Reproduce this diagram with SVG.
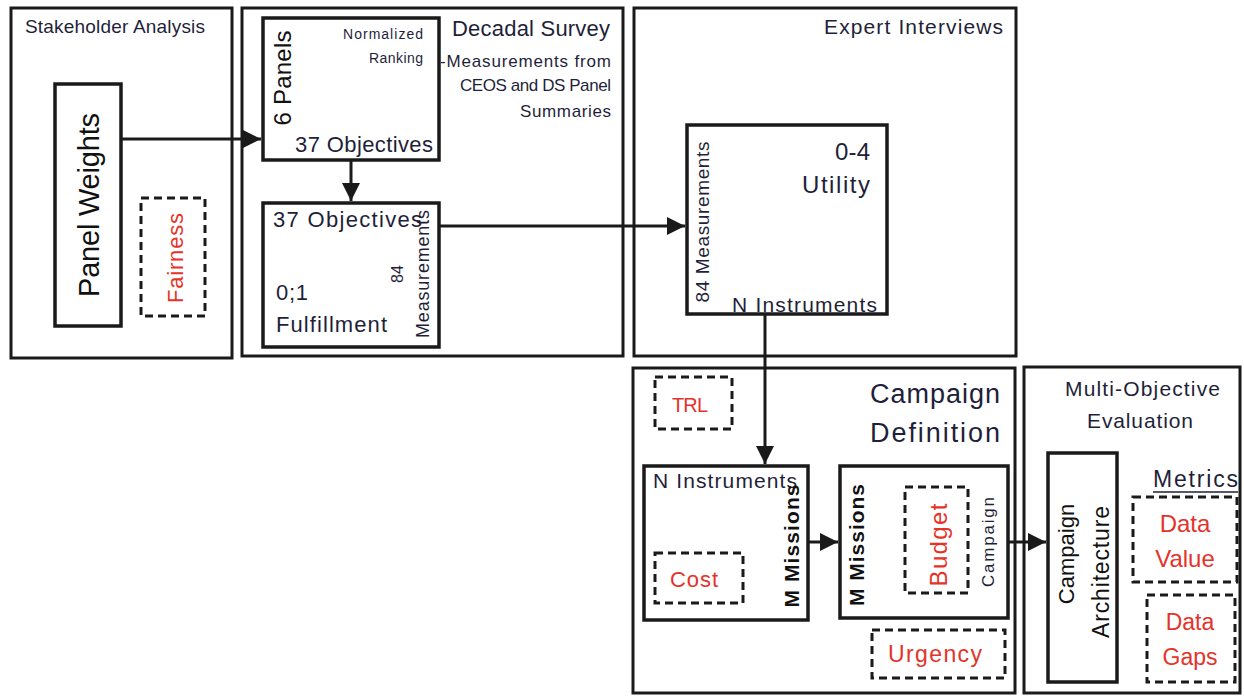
<svg xmlns="http://www.w3.org/2000/svg" width="1244" height="696" viewBox="0 0 1244 696">
<style>
  text { font-family: "Liberation Sans", Arial, sans-serif; fill: #1f1f3a; }
  .panel { fill: #fff; stroke: #1a1a1a; stroke-width: 3; }
  .box { fill: #fff; stroke: #1a1a1a; stroke-width: 3.5; }
  .dash { fill: none; stroke: #1a1a1a; stroke-width: 3; stroke-dasharray: 8 5; }
  .red { fill: #e5332a; }
  .dark { fill: #111; }
  .conn { fill: none; stroke: #1a1a1a; stroke-width: 3; }
</style>
<defs>
  <marker id="arr" viewBox="0 0 10 10" refX="10" refY="5" markerWidth="6" markerHeight="6" markerUnits="strokeWidth" orient="auto">
    <path d="M0,0 L10,5 L0,10 z" fill="#1a1a1a"/>
  </marker>
</defs>
<rect width="1244" height="696" fill="#fff"/>

<g id="stakeholder-analysis">
  <rect class="panel" x="11" y="8" width="221" height="350"/>
  <text x="25" y="33" font-size="19" textLength="180">Stakeholder Analysis</text>
</g>
<g id="decadal-survey">
  <rect class="panel" x="242" y="8" width="381" height="348"/>
  <text x="452" y="36" font-size="22" textLength="158">Decadal Survey</text>
  <text x="440" y="67" font-size="17" textLength="171">-Measurements from</text>
  <text x="460" y="91" font-size="17" textLength="151">CEOS and DS Panel</text>
  <text x="520" y="117" font-size="17" textLength="91">Summaries</text>
</g>
<g id="expert-interviews">
  <rect class="panel" x="634" y="8" width="382" height="348"/>
  <text x="824" y="34" font-size="21" textLength="179">Expert Interviews</text>
</g>
<g id="campaign-definition">
  <rect class="panel" x="633" y="368" width="382" height="325"/>
  <text x="870" y="403" font-size="27" textLength="130">Campaign</text>
  <text x="870" y="442" font-size="27" textLength="130">Definition</text>
</g>
<g id="multi-objective-evaluation">
  <rect class="panel" x="1024" y="367" width="216" height="326"/>
  <text x="1065" y="396" font-size="21" textLength="155">Multi-Objective</text>
  <text x="1087" y="428" font-size="21" textLength="106">Evaluation</text>
</g>

<g id="panel-weights">
  <rect class="box" x="55" y="84" width="66" height="242"/>
  <text class="dark" transform="translate(99,205) rotate(-90)" font-size="29" text-anchor="middle" textLength="184">Panel Weights</text>
</g>
<g id="fairness">
  <rect class="dash" x="141" y="198" width="64" height="118"/>
  <text class="red" transform="translate(183,258) rotate(-90)" font-size="22" text-anchor="middle" textLength="90">Fairness</text>
</g>

<g id="panels-box">
  <rect class="box" x="263" y="18" width="176" height="142"/>
  <text class="dark" transform="translate(291,78) rotate(-90)" font-size="24" text-anchor="middle" textLength="95">6 Panels</text>
  <text x="343" y="39" font-size="14" textLength="80">Normalized</text>
  <text x="369" y="63" font-size="14" textLength="54">Ranking</text>
  <text x="295" y="152" font-size="22" textLength="138">37 Objectives</text>
</g>
<g id="objectives-box">
  <rect class="box" x="263" y="203" width="176" height="144"/>
  <text x="273" y="227" font-size="22" textLength="149">37 Objectives</text>
  <text x="276" y="300" font-size="22" textLength="32">0;1</text>
  <text x="276" y="332" font-size="22" textLength="111">Fulfillment</text>
  <text transform="translate(403,274) rotate(-90)" font-size="16" text-anchor="middle" textLength="18">84</text>
  <text transform="translate(429,274) rotate(-90)" font-size="18" text-anchor="middle" textLength="128">Measurements</text>
</g>

<g id="utility-box">
  <rect class="box" x="687" y="125" width="200" height="189"/>
  <text transform="translate(709,222) rotate(-90)" font-size="19" text-anchor="middle" textLength="161">84 Measurements</text>
  <text x="835" y="160" font-size="24" textLength="35">0-4</text>
  <text x="802" y="193" font-size="24" textLength="68">Utility</text>
  <text x="732" y="312" font-size="21" textLength="145">N Instruments</text>
</g>

<g id="trl">
  <rect class="dash" x="655" y="377" width="77" height="52"/>
  <text class="red" x="672" y="412" font-size="20" textLength="36">TRL</text>
</g>
<g id="instruments-box">
  <rect class="box" x="644" y="466" width="164" height="154"/>
  <text x="653" y="488" font-size="21" textLength="144">N Instruments</text>
  <text class="dark" transform="translate(799,546) rotate(-90)" font-size="21" font-weight="bold" text-anchor="middle" textLength="123">M Missions</text>
</g>
<g id="cost">
  <rect class="dash" x="655" y="553" width="88" height="50"/>
  <text class="red" x="670" y="587" font-size="22" textLength="48">Cost</text>
</g>
<g id="missions-box">
  <rect class="box" x="840" y="466" width="168" height="152"/>
  <text class="dark" transform="translate(864,545) rotate(-90)" font-size="21" font-weight="bold" text-anchor="middle" textLength="122">M Missions</text>
  <text transform="translate(994,542) rotate(-90)" font-size="17" text-anchor="middle" textLength="90">Campaign</text>
</g>
<g id="budget">
  <rect class="dash" x="905" y="487" width="63" height="106"/>
  <text class="red" transform="translate(947,545) rotate(-90)" font-size="24" text-anchor="middle" textLength="83">Budget</text>
</g>
<g id="urgency">
  <rect class="dash" x="872" y="630" width="133" height="48"/>
  <text class="red" x="888" y="662" font-size="23" textLength="94">Urgency</text>
</g>

<g id="campaign-architecture">
  <rect class="box" x="1048" y="453" width="69" height="229"/>
  <text class="dark" transform="translate(1074,554) rotate(-90)" font-size="22" text-anchor="middle">Campaign</text>
  <text class="dark" transform="translate(1109,572) rotate(-90)" font-size="23" text-anchor="middle" textLength="132">Architecture</text>
</g>
<g id="metrics">
  <text x="1153" y="487" font-size="23" textLength="85">Metrics</text>
  <line x1="1153" y1="492" x2="1238" y2="492" stroke="#1f1f3a" stroke-width="1.5"/>
</g>
<g id="data-value">
  <rect class="dash" x="1133" y="497" width="104" height="85"/>
  <text class="red" x="1185" y="532" font-size="24" text-anchor="middle">Data</text>
  <text class="red" x="1185" y="567" font-size="24" text-anchor="middle">Value</text>
</g>
<g id="data-gaps">
  <rect class="dash" x="1147" y="595" width="88" height="87"/>
  <text class="red" x="1190" y="630" font-size="23" text-anchor="middle">Data</text>
  <text class="red" x="1190" y="665" font-size="23" text-anchor="middle">Gaps</text>
</g>

<g id="connectors">
  <line class="conn" x1="121" y1="139" x2="261" y2="139" marker-end="url(#arr)"/>
  <line class="conn" x1="351" y1="160" x2="351" y2="201" marker-end="url(#arr)"/>
  <line class="conn" x1="439" y1="226" x2="685" y2="226" marker-end="url(#arr)"/>
  <line class="conn" x1="765" y1="314" x2="765" y2="464" marker-end="url(#arr)"/>
  <line class="conn" x1="808" y1="542" x2="838" y2="542" marker-end="url(#arr)"/>
  <line class="conn" x1="1008" y1="542" x2="1046" y2="542" marker-end="url(#arr)"/>
</g>
</svg>
